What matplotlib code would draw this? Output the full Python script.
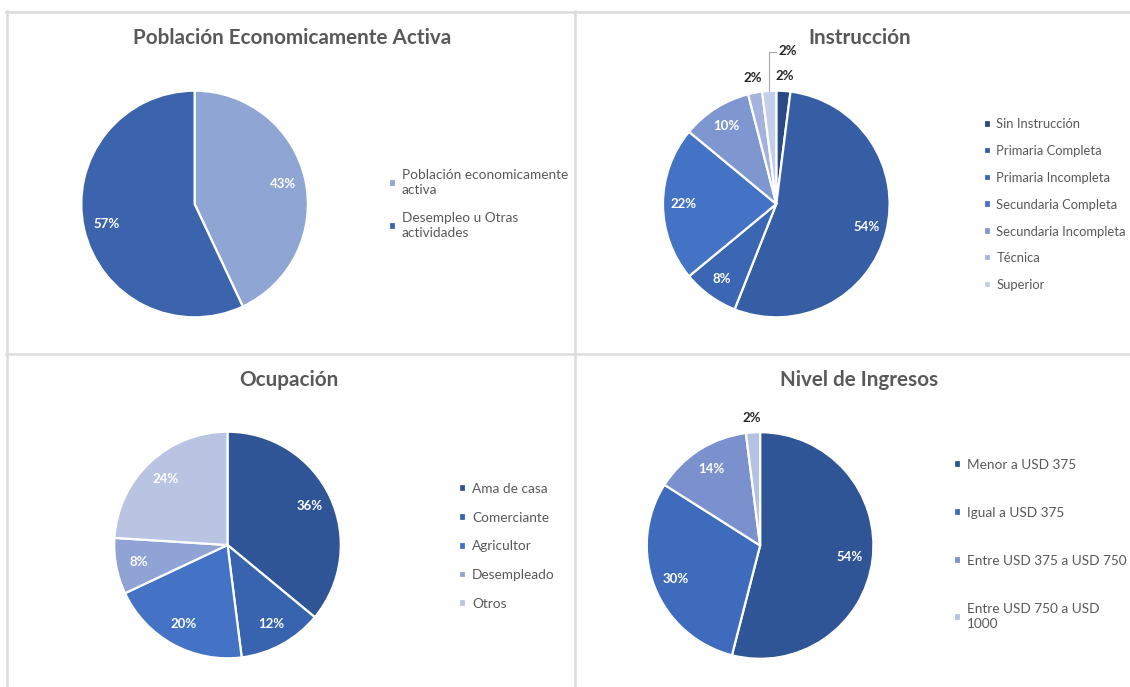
import matplotlib
matplotlib.use("Agg")
import matplotlib.pyplot as plt
from matplotlib.lines import Line2D
import numpy as np

plt.rcParams['font.family'] = ['Lato', 'DejaVu Sans']

W, H = 1130, 687
R_PX = 113.3

# --- data ---
pea_labels = ["Población economicamente\nactiva", "Desempleo u Otras\nactividades"]
pea_values = [43, 57]
pea_colors = ["#8FA5D4", "#3C64AC"]

ins_labels = ["Sin Instrucción", "Primaria Completa", "Primaria Incompleta",
              "Secundaria Completa", "Secundaria Incompleta", "Técnica", "Superior"]
ins_values = [2, 54, 8, 22, 10, 2, 2]
ins_colors = ["#2A4A85", "#355EA5", "#3A66B4", "#4472C4", "#7F97D1", "#A3B3DE", "#C5CEE9"]

ocu_labels = ["Ama de casa", "Comerciante", "Agricultor", "Desempleado", "Otros"]
ocu_values = [36, 12, 20, 8, 24]
ocu_colors = ["#2F5597", "#3863AE", "#4472C4", "#8FA3D5", "#B9C3E2"]

ing_labels = ["Menor a USD 375", "Igual a USD 375", "Entre USD 375 a USD 750",
              "Entre USD 750 a USD\n1000"]
ing_values = [54, 30, 14, 2]
ing_colors = ["#2F5597", "#3E6BBB", "#7A91CD", "#B5C1E3"]

TITLE_C = "#595959"
LEG_C = "#595959"

fig = plt.figure(figsize=(W / 100, H / 100), dpi=100)


def fx(x):
    return x / W


def fy(y):
    return 1 - y / H


def pie_axes(cx, cy):
    half = 1.6 * R_PX
    ax = fig.add_axes([fx(cx - half), fy(cy + half), 2 * half / W, 2 * half / H])
    return ax


def draw_pie(ax, values, colors, outside=(), skip=(), pctdist=0.8):
    wedges, _ = ax.pie(values, colors=colors, startangle=90, counterclock=False,
                       radius=1, wedgeprops=dict(edgecolor="white", linewidth=1.6))
    for i, (w, v) in enumerate(zip(wedges, values)):
        if i in skip:
            continue
        mid = np.deg2rad((w.theta1 + w.theta2) / 2)
        if i in outside:
            r, col = 1.13, "#262626"
        else:
            r, col = pctdist, "white"
        ax.text(r * np.cos(mid), r * np.sin(mid), f"{v}%", ha="center", va="center",
                color=col, fontsize=9.5, fontweight="bold")
    ax.set_xlim(-1.6, 1.6)
    ax.set_ylim(-1.6, 1.6)
    ax.set_aspect("equal")
    ax.axis("off")
    return wedges


def legend(ax, wedges, labels, x, y, spacing, size=9.8):
    leg = ax.legend(wedges, labels, loc="upper left", bbox_to_anchor=(fx(x), fy(y)),
                    bbox_transform=fig.transFigure, frameon=False, fontsize=size,
                    handlelength=0.5, handleheight=0.5, handletextpad=0.45,
                    labelspacing=spacing, borderpad=0, borderaxespad=0,
                    labelcolor=LEG_C)
    for t in leg.get_texts():
        t.set_linespacing(1.3)


# panel borders
for (x0, y0, x1, y1) in [(6, 11.5, W, 11.5), (6.5, 11, 6.5, H),
                         (6, 353.5, W, 353.5), (574.5, 11, 574.5, H)]:
    fig.add_artist(Line2D([fx(x0), fx(x1)], [fy(y0), fy(y1)], color="#DCDCDC",
                          linewidth=1.8, transform=fig.transFigure))

# Población Economicamente Activa
ax1 = pie_axes(194.6, 204)
w1 = draw_pie(ax1, pea_values, pea_colors)
fig.text(fx(292), fy(38), "Población Economicamente Activa", ha="center", va="center",
         fontsize=14.9, fontweight="bold", color=TITLE_C)
legend(ax1, w1, pea_labels, 389, 169, 1.2)

# Instrucción
ax2 = pie_axes(776.3, 204)
w2 = draw_pie(ax2, ins_values, ins_colors, outside=(0, 5), skip=(6,), pctdist=0.82)
sup = w2[6]
mid = np.deg2rad((sup.theta1 + sup.theta2) / 2)
ax2.annotate(f"{ins_values[6]}%", xy=(np.cos(mid), np.sin(mid)), xytext=(0.02, 1.35),
             ha="left", va="center", color="#262626", fontsize=9.5, fontweight="bold",
             arrowprops=dict(arrowstyle="-", color="#A6A6A6", linewidth=0.8,
                             connectionstyle="angle,angleA=0,angleB=90",
                             relpos=(0, 0.4), shrinkA=0, shrinkB=0))
fig.text(fx(860), fy(38), "Instrucción", ha="center", va="center",
         fontsize=14.9, fontweight="bold", color=TITLE_C)
legend(ax2, w2, ins_labels, 984, 118.5, 1.13, size=9.4)

# Ocupación
ax3 = pie_axes(227.5, 545)
w3 = draw_pie(ax3, ocu_values, ocu_colors)
fig.text(fx(289), fy(380), "Ocupación", ha="center", va="center",
         fontsize=14.9, fontweight="bold", color=TITLE_C)
legend(ax3, w3, ocu_labels, 459, 483, 1.23)

# Nivel de Ingresos
ax4 = pie_axes(760.1, 545.5)
w4 = draw_pie(ax4, ing_values, ing_colors, outside=(3,))
fig.text(fx(859), fy(380), "Nivel de Ingresos", ha="center", va="center",
         fontsize=14.9, fontweight="bold", color=TITLE_C)
legend(ax4, w4, ing_labels, 954, 459, 2.65)

fig.savefig("out.png", dpi=100, facecolor="white")
